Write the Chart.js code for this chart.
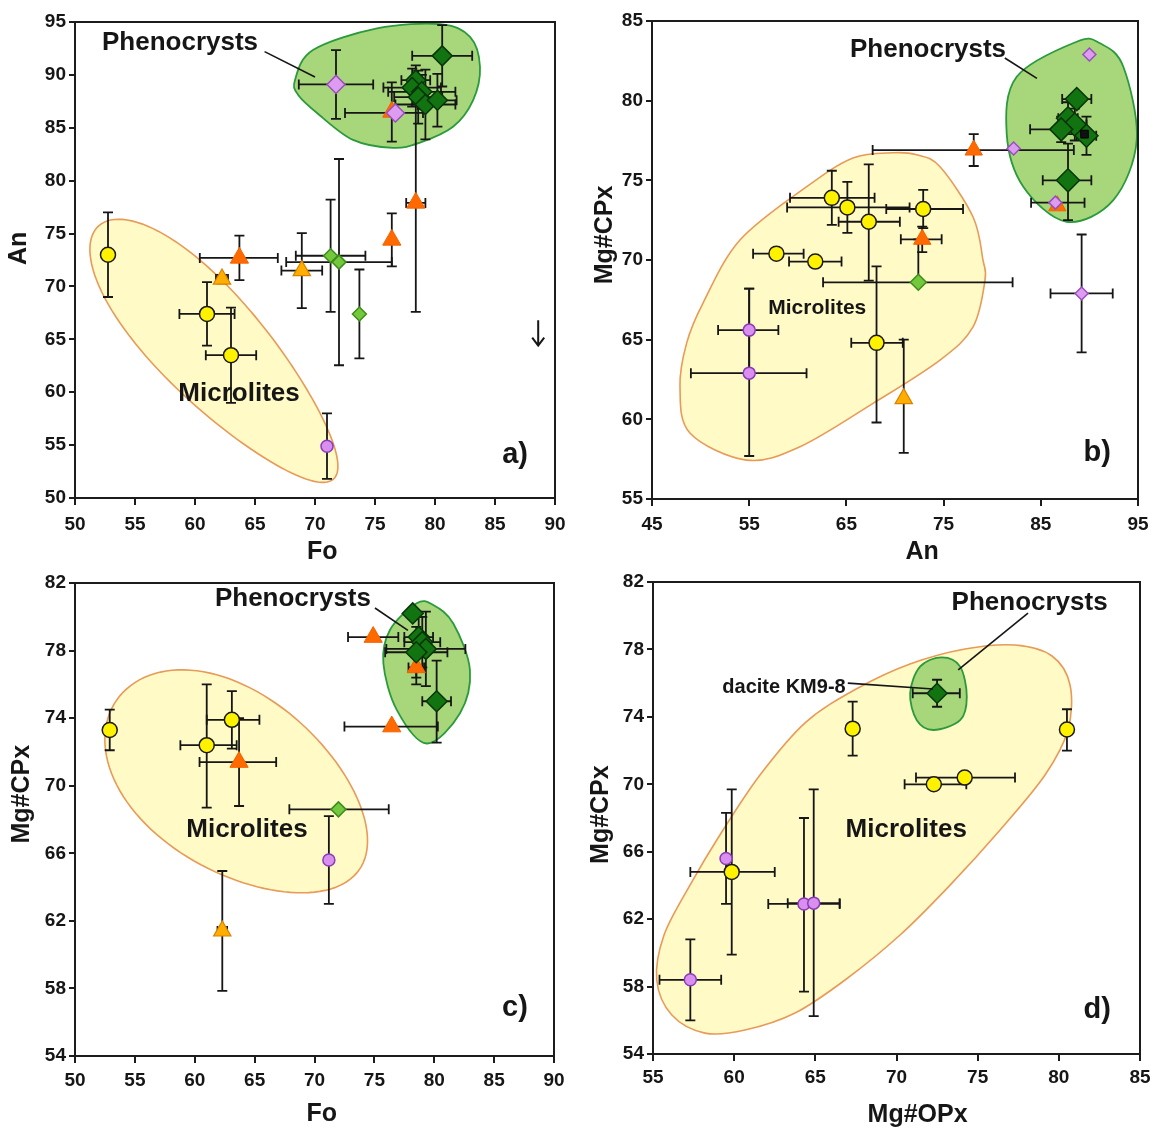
<!DOCTYPE html>
<html>
<head>
<meta charset="utf-8">
<title>Fo, An, Mg#CPx and Mg#OPx of phenocrysts and microlites</title>
<script src="https://cdn.jsdelivr.net/npm/chart.js@4.4.1/dist/chart.umd.min.js"></script>
<style>
  html, body { margin: 0; padding: 0; background: #fff; }
  body { position: relative; width: 1175px; height: 1129px; overflow: hidden; }
  canvas { position: absolute; }
</style>
</head>
<body>
<canvas id="panelA" width="580" height="568" style="left:0;top:0"></canvas>
<canvas id="panelB" width="595" height="568" style="left:580px;top:0"></canvas>
<canvas id="panelC" width="580" height="565" style="left:0;top:565px"></canvas>
<canvas id="panelD" width="595" height="566" style="left:580px;top:565px"></canvas>
<script>
// Each point: [x, y, xError, yError]; an error is ± value or [minus, plus].

// a) An vs Fo
const aYellowCircles = [[52.75, 73.0, 0, 4.0], [61.0, 67.4, 2.3, 3.0], [63.0, 63.5, 2.1, 4.5]];
const aVioletCircles = [[71.0, 54.9, 0, 3.1]];
const aVioletDiamonds = [[71.75, 89.1, 3.1, 3.25], [76.7, 86.4, [4.2, 2.3], 0]];
const aOrangeTriangles = [[63.7, 72.7, [3.3, 3.2], 2.1], [76.4, 74.4, 0, 2.5], [78.4, 77.9, 0.8, [10.3, 9.3]], [76.4, 86.5, 0, 2.8]];
const aAmberTriangles = [[62.25, 70.7, 0.5, 0.4], [68.9, 71.5, 1.7, 3.55]];
const aLightGreenDiamonds = [[71.3, 72.9, 2.9, 5.3], [72.0, 72.3, 4.4, 9.75], [73.7, 67.4, 0, 4.2]];
const aDarkGreenDiamonds = [[80.6, 91.8, 2.5, 2.9], [78.4, 89.5, 1.2, 1.4], [78.1, 88.8, 2.4, 1.8], [78.9, 88.4, 2.8, 1.6],
                            [78.6, 87.9, 2.0, 2.5], [79.2, 87.2, 2.5, 3.3], [80.2, 87.6, 1.6, 2.5]];
const aXTicks = [50, 55, 60, 65, 70, 75, 80, 85, 90];
const aYTicks = [50, 55, 60, 65, 70, 75, 80, 85, 90, 95];

// b) Mg#CPx vs An
const bYellowCircles = [[63.5, 73.9, [4.3, 4.4], 1.7], [65.1, 73.3, [6.2, 6.4], 1.6], [67.3, 72.4, [3.1, 3.2], [3.7, 3.6]],
                        [72.9, 73.2, [3.8, 4.1], 1.2], [57.8, 70.4, [2.4, 2.8], 0], [61.8, 69.9, 2.7, 0],
                        [68.1, 64.8, [2.6, 2.7], [5.0, 4.8]]];
const bVioletCircles = [[55.0, 65.6, [3.2, 3.0], 2.6], [55.0, 62.9, [6.0, 5.9], [5.2, 5.3]]];
const bOrangeTriangles = [[78.1, 76.9, [10.4, 10.3], 1.0], [72.8, 71.3, [2.2, 2.0], 0.8], [86.7, 73.4, 0, 0]];
const bAmberTriangles = [[70.9, 61.3, 0, [3.4, 3.7]]];
const bVioletDiamonds = [[82.2, 77.0, 0, 0], [90.0, 82.9, 0, 0], [86.5, 73.6, [2.5, 3.0], 0], [89.2, 67.9, 3.2, 3.7]];
const bLightGreenDiamonds = [[72.4, 68.6, [9.8, 9.7], [0, 2.7]]];
const bDarkGreenDiamonds = [[88.7, 80.1, 1.5, 0], [87.8, 78.9, 1.0, 1.0], [88.5, 78.5, 1.2, 1.0], [87.1, 78.2, [3.2, 1.2], 0.8],
                            [89.7, 77.8, 1.0, 1.2], [87.8, 75.0, [2.6, 2.4], [2.5, 2.3]]];
const bBlackSquares = [[89.5, 77.9, 0, 0]];
const bXTicks = [45, 55, 65, 75, 85, 95];
const bYTicks = [55, 60, 65, 70, 75, 80, 85];

// c) Mg#CPx vs Fo
const cYellowCircles = [[52.9, 73.3, 0, 1.2], [61.0, 72.4, [2.2, 2.5], [3.7, 3.6]], [63.1, 73.9, [2.1, 2.3], 1.7]];
const cVioletCircles = [[71.2, 65.6, 0, 2.6]];
const cOrangeTriangles = [[63.7, 71.4, [3.3, 3.1], 2.6], [74.9, 78.8, 2.1, 0], [76.45, 73.5, [3.95, 3.85], 0], [78.5, 77.0, 0.65, [1.0, 0.7]]];
const cAmberTriangles = [[62.3, 61.4, 0.4, 3.55]];
const cLightGreenDiamonds = [[72.0, 68.6, [4.1, 4.2], 0]];
const cDarkGreenDiamonds = [[78.2, 80.2, 0, 0.3], [78.7, 78.8, 1.2, 1.2], [79.0, 78.5, 1.5, 1.5], [79.3, 78.1, 3.3, 2.2],
                            [78.5, 77.9, 2.6, 1.5], [80.2, 75.0, 1.2, [2.45, 2.4]]];
const cXTicks = [50, 55, 60, 65, 70, 75, 80, 85, 90];
const cYTicks = [54, 58, 62, 66, 70, 74, 78, 82];

// d) Mg#CPx vs Mg#OPx
const dYellowCircles = [[67.3, 73.3, 0, 1.6], [80.5, 73.25, 0, [1.25, 1.2]], [72.3, 70.0, [1.8, 2.0], 0],
                        [74.2, 70.4, [3.0, 3.1], 0], [59.85, 64.8, [2.55, 2.65], 4.9]];
const dVioletCircles = [[59.5, 65.6, 0, 2.7], [64.3, 62.9, 2.2, [5.2, 5.1]], [64.9, 62.95, 1.6, [6.7, 6.75]], [57.3, 58.4, 1.9, 2.4]];
const dDarkGreenDiamonds = [[72.5, 75.4, [1.5, 1.4], 0.8]];
const dXTicks = [55, 60, 65, 70, 75, 80, 85];
const dYTicks = [54, 58, 62, 66, 70, 74, 78, 82];

const FONT = '"Liberation Sans", Arial, Helvetica, sans-serif';
const INK = '#161616';

const MARKERS = {
  blackSquare:       { pointStyle: 'rect',     radius: 5.5, bg: '#111111', border: '#000000', bw: 1 },
  violetDiamond:     { pointStyle: 'rectRot',  radius: 7,   bg: '#de9cf0', border: '#9a4fc0', bw: 1.5 },
  darkGreenDiamond:  { pointStyle: 'rectRot',  radius: 10,  bg: '#117411', border: '#0a340a', bw: 1.5 },
  lightGreenDiamond: { pointStyle: 'rectRot',  radius: 7.5, bg: '#74c83c', border: '#3e8c1c', bw: 1.5 },
  yellowCircle:      { pointStyle: 'circle',   radius: 7.5, bg: '#fff200', border: '#1a1a1a', bw: 1.5 },
  violetCircle:      { pointStyle: 'circle',   radius: 6,   bg: '#d98ff0', border: '#8b3bb8', bw: 1.5 },
  orangeTriangle:    { pointStyle: 'triangle', radius: 10.5, bg: '#ff6a00', border: '#f26200', bw: 1 },
  amberTriangle:     { pointStyle: 'triangle', radius: 10,  bg: '#ffad00', border: '#d98200', bw: 1.2 }
};

const YELLOW_FIELD = { fill: '#fffac6', stroke: '#e89a58', lineWidth: 1.6 };
const GREEN_FIELD = { fill: '#a8d67a', stroke: '#2b9a3c', lineWidth: 1.8 };

function err(e) { return Array.isArray(e) ? e : [e, e]; }

function toPoints(values) {
  return values.map(([x, y, ex, ey]) => {
    const [xm, xp] = err(ex), [ym, yp] = err(ey);
    return { x, y, xm, xp, ym, yp };
  });
}

// Smooth closed curve through outline vertices (Catmull-Rom as Bezier segments)
function closedSpline(ctx, pts) {
  const n = pts.length;
  ctx.beginPath();
  ctx.moveTo(pts[0][0], pts[0][1]);
  for (let i = 0; i < n; i++) {
    const p0 = pts[(i - 1 + n) % n], p1 = pts[i], p2 = pts[(i + 1) % n], p3 = pts[(i + 2) % n];
    ctx.bezierCurveTo(
      p1[0] + (p2[0] - p0[0]) / 6, p1[1] + (p2[1] - p0[1]) / 6,
      p2[0] - (p3[0] - p1[0]) / 6, p2[1] - (p3[1] - p1[1]) / 6,
      p2[0], p2[1]);
  }
  ctx.closePath();
}

// Egg-shaped field in axis units: centre c, long half-axis u, short half-axis v, widening k toward +u
function eggOutline(f) {
  const pts = [];
  for (let i = 0; i < 120; i++) {
    const t = (i / 120) * Math.PI * 2, ct = Math.cos(t), st = Math.sin(t) * (1 + f.k * Math.cos(t));
    pts.push([f.c[0] + f.u[0] * ct + f.v[0] * st, f.c[1] + f.u[1] * ct + f.v[1] * st]);
  }
  return pts;
}

function decorPlugin(spec) {
  return {
    id: 'panelDecor',
    beforeDatasetsDraw(chart) {
      const { ctx, chartArea: ca, scales: { x, y } } = chart;
      ctx.save();
      ctx.beginPath();
      ctx.rect(ca.left, ca.top, ca.right - ca.left, ca.bottom - ca.top);
      ctx.clip();
      // composition fields
      spec.fields.forEach(f => {
        const outline = f.outline || eggOutline(f);
        const pts = outline.map(([vx, vy]) => [x.getPixelForValue(vx), y.getPixelForValue(vy)]);
        if (f.outline) {
          closedSpline(ctx, pts);
        } else {
          ctx.beginPath();
          pts.forEach(([px, py], i) => (i ? ctx.lineTo(px, py) : ctx.moveTo(px, py)));
          ctx.closePath();
        }
        ctx.fillStyle = f.style.fill;
        ctx.fill();
        ctx.lineWidth = f.style.lineWidth;
        ctx.strokeStyle = f.style.stroke;
        ctx.stroke();
      });
      // error bars
      ctx.strokeStyle = INK;
      ctx.lineWidth = 1.8;
      const cap = 5;
      chart.data.datasets.forEach(ds => ds.data.forEach(p => {
        const px = x.getPixelForValue(p.x), py = y.getPixelForValue(p.y);
        ctx.beginPath();
        if (p.xm || p.xp) {
          const x1 = x.getPixelForValue(p.x - p.xm), x2 = x.getPixelForValue(p.x + p.xp);
          ctx.moveTo(x1, py); ctx.lineTo(x2, py);
          if (p.xm) { ctx.moveTo(x1, py - cap); ctx.lineTo(x1, py + cap); }
          if (p.xp) { ctx.moveTo(x2, py - cap); ctx.lineTo(x2, py + cap); }
        }
        if (p.ym || p.yp) {
          const y1 = y.getPixelForValue(p.y - p.ym), y2 = y.getPixelForValue(p.y + p.yp);
          ctx.moveTo(px, y1); ctx.lineTo(px, y2);
          if (p.ym) { ctx.moveTo(px - cap, y1); ctx.lineTo(px + cap, y1); }
          if (p.yp) { ctx.moveTo(px - cap, y2); ctx.lineTo(px + cap, y2); }
        }
        ctx.stroke();
      }));
      ctx.restore();
    },
    afterDatasetsDraw(chart) {
      const { ctx, scales: { x, y } } = chart;
      ctx.save();
      // leader lines
      ctx.strokeStyle = INK;
      ctx.lineWidth = 1.6;
      spec.leaders.forEach(([x1, y1, x2, y2]) => {
        ctx.beginPath();
        ctx.moveTo(x.getPixelForValue(x1), y.getPixelForValue(y1));
        ctx.lineTo(x.getPixelForValue(x2), y.getPixelForValue(y2));
        ctx.stroke();
      });
      // downward arrows
      (spec.arrows || []).forEach(([ax, yTop, yBottom]) => {
        const px = x.getPixelForValue(ax), t = y.getPixelForValue(yTop), b = y.getPixelForValue(yBottom);
        ctx.lineWidth = 2;
        ctx.beginPath();
        ctx.moveTo(px, t); ctx.lineTo(px, b);
        ctx.moveTo(px - 6, b - 8); ctx.lineTo(px, b); ctx.lineTo(px + 6, b - 8);
        ctx.stroke();
      });
      // labels inside the plot
      ctx.fillStyle = INK;
      ctx.textAlign = 'center';
      ctx.textBaseline = 'middle';
      spec.labels.forEach(l => {
        ctx.font = `bold ${l.size}px ${FONT}`;
        ctx.fillText(l.text, x.getPixelForValue(l.x), y.getPixelForValue(l.y));
      });
      ctx.restore();
    },
    afterDraw(chart) {
      const { ctx, chartArea: ca, scales: { x, y } } = chart;
      ctx.save();
      // plot frame
      ctx.strokeStyle = '#1c1c1c';
      ctx.lineWidth = 2;
      ctx.strokeRect(ca.left, ca.top, ca.right - ca.left, ca.bottom - ca.top);
      // axis titles
      ctx.fillStyle = INK;
      ctx.textAlign = 'center';
      ctx.textBaseline = 'middle';
      ctx.font = `bold ${spec.titleSize}px ${FONT}`;
      ctx.fillText(spec.xTitle.text, x.getPixelForValue(spec.xTitle.at), ca.bottom + spec.xTitle.offset);
      ctx.translate(ca.left - spec.yTitle.offset, y.getPixelForValue(spec.yTitle.at));
      ctx.rotate(-Math.PI / 2);
      ctx.fillText(spec.yTitle.text, 0, 0);
      ctx.restore();
    }
  };
}

function makePanel(canvasId, spec) {
  const tickFont = { family: FONT, size: 19, weight: 'bold' };
  const datasets = spec.series.map(s => {
    const m = MARKERS[s.kind];
    return {
      label: s.kind,
      data: toPoints(s.values),
      pointStyle: m.pointStyle,
      pointRadius: s.radius || m.radius,
      pointBackgroundColor: m.bg,
      pointBorderColor: m.border,
      pointBorderWidth: m.bw,
      pointHoverRadius: s.radius || m.radius
    };
  });
  const axis = (ticks, fitSize, horizontal, pad) => ({
    type: 'linear',
    min: ticks[0], max: ticks[ticks.length - 1],
    afterBuildTicks: sc => { sc.ticks = ticks.map(v => ({ value: v })); },
    afterFit: sc => { if (horizontal) sc.height = fitSize; else sc.width = fitSize; },
    grid: { display: true, drawOnChartArea: false, drawTicks: true, tickLength: horizontal ? 7 : 6, color: '#1c1c1c', lineWidth: 2 },
    border: { display: true, color: '#1c1c1c', width: 2 },
    ticks: { font: tickFont, color: INK, padding: pad, autoSkip: false, maxRotation: 0, minRotation: 0 },
    title: { display: false }
  });
  return new Chart(document.getElementById(canvasId), {
    type: 'scatter',
    data: { datasets },
    options: {
      responsive: false,
      animation: false,
      devicePixelRatio: 1,
      layout: { padding: spec.padding },
      plugins: { legend: { display: false }, tooltip: { enabled: false } },
      events: [],
      scales: {
        x: axis(spec.xTicks, spec.xAxisHeight, true, spec.xTickPad),
        y: axis(spec.yTicks, spec.yAxisWidth, false, 3)
      }
    },
    plugins: [decorPlugin(spec)]
  });
}

// a)
makePanel('panelA', {
  padding: { left: 0, top: 22, right: 25, bottom: 0 },
  yAxisWidth: 75, xAxisHeight: 70, xTickPad: 8,
  xTicks: aXTicks, yTicks: aYTicks,
  titleSize: 25,
  xTitle: { text: 'Fo', at: 70.6, offset: 54 },
  yTitle: { text: 'An', at: 73.6, offset: 56 },
  series: [
    { kind: 'violetDiamond', values: aVioletDiamonds, radius: 9 },
    { kind: 'darkGreenDiamond', values: aDarkGreenDiamonds },
    { kind: 'lightGreenDiamond', values: aLightGreenDiamonds, radius: 7 },
    { kind: 'yellowCircle', values: aYellowCircles },
    { kind: 'violetCircle', values: aVioletCircles },
    { kind: 'orangeTriangle', values: aOrangeTriangles },
    { kind: 'amberTriangle', values: aAmberTriangles }
  ],
  fields: [
    { style: YELLOW_FIELD, c: [61.75, 63.75], u: [-9.8, 11.95], v: [3.25, 3.42], k: 0.18 },
    { style: GREEN_FIELD, outline: [[68.33, 89.5], [69.83, 92.35], [75.17, 94.4], [80.42, 94.8], [82.92, 93.6], [83.75, 90.75],
      [83.17, 87.6], [81.5, 85.1], [78.75, 83.6], [76.5, 83.1], [73.17, 83.85], [70.17, 86.4], [68.6, 88.1]] }
  ],
  leaders: [[65.8, 92.2, 70.0, 89.8]],
  arrows: [[88.6, 66.8, 64.4]],
  labels: [
    { text: 'Phenocrysts', x: 58.75, y: 93.0, size: 26 },
    { text: 'Microlites', x: 63.67, y: 59.84, size: 26 },
    { text: 'a)', x: 86.67, y: 54.1, size: 29 }
  ]
});

// b)
makePanel('panelB', {
  padding: { left: 0, top: 21, right: 37, bottom: 0 },
  yAxisWidth: 72, xAxisHeight: 69, xTickPad: 7,
  xTicks: bXTicks, yTicks: bYTicks,
  titleSize: 25,
  xTitle: { text: 'An', at: 72.8, offset: 53 },
  yTitle: { text: 'Mg#CPx', at: 71.57, offset: 47 },
  series: [
    { kind: 'blackSquare', values: bBlackSquares },
    { kind: 'violetDiamond', values: bVioletDiamonds, radius: 6.5 },
    { kind: 'darkGreenDiamond', values: bDarkGreenDiamonds, radius: 11.5 },
    { kind: 'lightGreenDiamond', values: bLightGreenDiamonds, radius: 8 },
    { kind: 'yellowCircle', values: bYellowCircles },
    { kind: 'violetCircle', values: bVioletCircles },
    { kind: 'orangeTriangle', values: bOrangeTriangles, radius: 10 },
    { kind: 'amberTriangle', values: bAmberTriangles }
  ],
  fields: [
    { style: YELLOW_FIELD, outline: [[69.83, 76.73], [65.68, 76.4], [60.92, 74.6], [54.05, 71.25], [50.25, 67.3], [48.57, 64.8],
      [47.88, 62.04], [48.9, 59.14], [54.74, 57.44], [60.23, 58.28], [67.74, 61.0], [74.63, 63.72], [78.03, 65.8],
      [79.26, 68.74], [79.05, 70.0], [78.03, 72.7], [74.63, 75.85], [72.23, 76.6]] },
    { style: GREEN_FIELD, outline: [[88.69, 83.7], [82.52, 81.5], [81.49, 77.95], [83.2, 74.6], [87.66, 72.4], [92.46, 73.76],
      [94.87, 77.53], [93.49, 82.13], [91.09, 83.6]] }
  ],
  leaders: [[81.3, 82.68, 84.6, 81.4]],
  labels: [
    { text: 'Phenocrysts', x: 73.4, y: 83.18, size: 26 },
    { text: 'Microlites', x: 62.0, y: 67.0, size: 21 },
    { text: 'b)', x: 90.8, y: 57.9, size: 29 }
  ]
});

// c)
makePanel('panelC', {
  padding: { left: 0, top: 18, right: 26, bottom: 0 },
  yAxisWidth: 75, xAxisHeight: 74, xTickPad: 6,
  xTicks: cXTicks, yTicks: cYTicks,
  titleSize: 25,
  xTitle: { text: 'Fo', at: 70.6, offset: 58 },
  yTitle: { text: 'Mg#CPx', at: 69.5, offset: 53 },
  series: [
    { kind: 'darkGreenDiamond', values: cDarkGreenDiamonds, radius: 10.5 },
    { kind: 'lightGreenDiamond', values: cLightGreenDiamonds },
    { kind: 'orangeTriangle', values: cOrangeTriangles },
    { kind: 'yellowCircle', values: cYellowCircles },
    { kind: 'violetCircle', values: cVioletCircles },
    { kind: 'amberTriangle', values: cAmberTriangles }
  ],
  fields: [
    { style: YELLOW_FIELD, c: [63.61, 70.05], u: [-10.12, 5.03], v: [4.22, 4.27], k: 0.1 },
    { style: GREEN_FIELD, outline: [[78.53, 80.8], [76.3, 79.22], [75.75, 77.25], [76.87, 74.49], [79.37, 72.5], [82.15, 74.29],
      [82.98, 76.85], [81.59, 79.6], [79.92, 80.7]] }
  ],
  leaders: [[75.05, 80.52, 77.8, 79.2]],
  labels: [
    { text: 'Phenocrysts', x: 68.2, y: 81.05, size: 26 },
    { text: 'Microlites', x: 64.36, y: 67.4, size: 26 },
    { text: 'c)', x: 86.74, y: 56.85, size: 29 }
  ]
});

// d)
makePanel('panelD', {
  padding: { left: 0, top: 17, right: 35, bottom: 0 },
  yAxisWidth: 73, xAxisHeight: 77, xTickPad: 5,
  xTicks: dXTicks, yTicks: dYTicks,
  titleSize: 25,
  xTitle: { text: 'Mg#OPx', at: 71.3, offset: 61 },
  yTitle: { text: 'Mg#CPx', at: 68.2, offset: 52 },
  series: [
    { kind: 'darkGreenDiamond', values: dDarkGreenDiamonds },
    { kind: 'yellowCircle', values: dYellowCircles },
    { kind: 'violetCircle', values: dVioletCircles }
  ],
  fields: [
    { style: YELLOW_FIELD, outline: [[55.23, 58.39], [55.68, 61.06], [57.28, 64.02], [59.12, 66.99], [61.59, 70.55], [64.42, 73.69],
      [67.63, 75.71], [70.83, 77.14], [74.22, 78.03], [77.3, 78.26], [79.58, 77.61], [80.69, 75.89], [80.56, 73.22],
      [79.15, 70.55], [76.38, 67.29], [73.3, 64.02], [70.22, 61.06], [66.83, 58.39], [63.75, 56.43], [60.67, 55.42],
      [58.2, 55.24], [56.16, 56.31]] },
    { style: GREEN_FIELD, outline: [[72.79, 77.53], [71.45, 76.98], [70.84, 75.4], [71.25, 73.8], [72.27, 73.22], [73.92, 73.8],
      [74.33, 75.2], [73.92, 76.98]] }
  ],
  leaders: [[78.1, 80.16, 73.8, 76.78], [67.0, 76.0, 72.25, 75.65]],
  labels: [
    { text: 'Phenocrysts', x: 78.2, y: 80.75, size: 26 },
    { text: 'dacite KM9-8', x: 63.07, y: 75.77, size: 20 },
    { text: 'Microlites', x: 70.6, y: 67.3, size: 26 },
    { text: 'd)', x: 82.36, y: 56.6, size: 29 }
  ]
});
</script>
</body>
</html>
